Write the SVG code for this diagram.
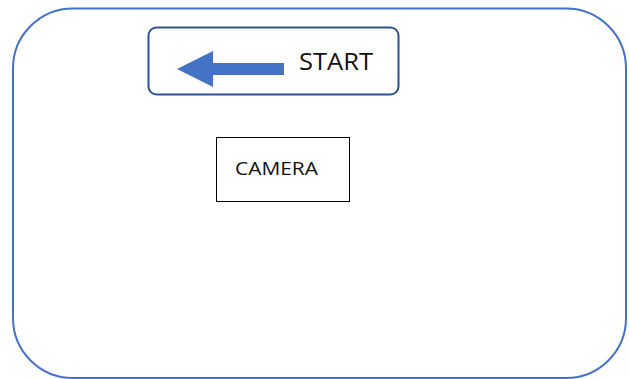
<svg xmlns="http://www.w3.org/2000/svg" width="629" height="379" viewBox="0 0 629 379">
<style>
.lbl{font-family:"Open Sans","Liberation Sans",Arial,sans-serif;fill:#111}
</style>
<rect width="629" height="379" fill="#fff"/>
<g id="frame"><rect x="13" y="8.5" width="613" height="369.5" rx="60" ry="60" fill="none" stroke="#4472C4" stroke-width="2"/></g>
<g id="start">
<rect x="148.5" y="27.5" width="250" height="67" rx="8" ry="8" fill="#fff" stroke="#2F528F" stroke-width="2"/>
<polygon points="177,69 213,51 213,63 284,63 284,75 213,75 213,87" fill="#4472C4"/>
<text class="lbl" x="299" y="70" font-size="23" textLength="74" lengthAdjust="spacingAndGlyphs">START</text>
</g>
<g id="camera">
<rect x="216.5" y="137.5" width="133" height="64" fill="#fff" stroke="#000" stroke-width="1"/>
<text class="lbl" x="235" y="175" font-size="18" textLength="83" lengthAdjust="spacingAndGlyphs">CAMERA</text>
</g>
<g id="connectors"/>
</svg>
